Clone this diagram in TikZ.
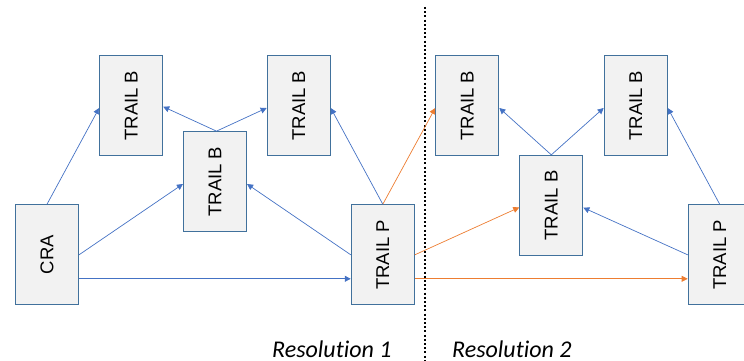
\documentclass[tikz,border=0pt]{standalone}
\usepackage{fontspec}
\setmainfont{Liberation Sans}
\newfontfamily\labfont[Ligatures={NoCommon,NoContextual}]{Carlito}
\usetikzlibrary{arrows.meta}
\definecolor{boxfill}{HTML}{F2F2F2}
\definecolor{boxline}{HTML}{41719C}
\definecolor{linkblue}{HTML}{4472C4}
\definecolor{linkorange}{HTML}{ED7D31}
\begin{document}
\begin{tikzpicture}[x=1pt,y=-1pt,
  blk/.style={draw=boxline,fill=boxfill,line width=1.1pt,minimum width=63pt,minimum height=100pt,inner sep=0pt,font=\fontsize{18.5}{20}\selectfont},
  bl/.style={draw=linkblue,line width=0.7pt,-{Triangle[width=6pt,length=6pt]}},
  og/.style={draw=linkorange,line width=0.7pt,-{Triangle[width=6pt,length=6pt]}},
  res/.style={font=\labfont\itshape\fontsize{24}{26}\selectfont,anchor=base west,inner sep=0pt}]
\useasboundingbox (0,0) rectangle (744,361);
\begin{scope}
\clip (0,0) rectangle (744,361);
\node[blk] (cra) at (47,254.8) {\rotatebox{90}{CRA}};
\node[blk] (b1) at (131.2,105.7) {\rotatebox{90}{TRAIL B}};
\node[blk] (bm) at (215,181.7) {\rotatebox{90}{TRAIL B}};
\node[blk] (b2) at (298.7,105.7) {\rotatebox{90}{TRAIL B}};
\node[blk] (p1) at (382.8,254.8) {\rotatebox{90}{TRAIL P}};
\node[blk] (b3) at (467.3,105.7) {\rotatebox{90}{TRAIL B}};
\node[blk] (bm2) at (551.3,205.4) {\rotatebox{90}{TRAIL B}};
\node[blk] (b4) at (635.7,105.7) {\rotatebox{90}{TRAIL B}};
\node[blk] (p2) at (719.7,254.8) {\rotatebox{90}{TRAIL P}};
\end{scope}
\coordinate (dtop) at (425.3,7);
\coordinate (dbot) at (425.3,361);
\draw[black,line width=2pt,dash pattern=on 2pt off 2.2pt] (dtop) -- (dbot);
% blue connectors, resolution 1
\draw[bl] (cra.north) -- ([yshift=-2.3pt]b1.west);
\draw[bl] (cra.east) -- ([yshift=-2.3pt]bm.west);
\draw[bl] ([yshift=-24pt]cra.east) -- ([yshift=-24pt]p1.west);
\draw[bl] ([xshift=1.5pt]bm.north) -- ([yshift=-1pt]b1.east);
\draw[bl] ([xshift=1.5pt]bm.north) -- ([yshift=-2.3pt]b2.west);
\draw[bl] (p1.north) -- ([yshift=-2.3pt]b2.east);
\draw[bl] (p1.west) -- ([yshift=-2.3pt]bm.east);
% orange connectors
\draw[og] (p1.north) -- ([yshift=-2.3pt]b3.west);
\draw[og] (p1.east) -- ([yshift=-2pt]bm2.west);
\draw[og] ([yshift=-24pt]p1.east) -- ([yshift=-24pt]p2.west);
% blue connectors, resolution 2
\draw[bl] (bm2.north) -- ([yshift=-2.3pt]b3.east);
\draw[bl] (bm2.north) -- ([yshift=-2.3pt]b4.west);
\draw[bl] (p2.north) -- ([yshift=-2.3pt]b4.east);
\draw[bl] (p2.west) -- ([yshift=-2.3pt]bm2.east);
\node[res] (r1) at (272,357.5) {Resolution 1};
\node[res] (r2) at (452,357.5) {Resolution 2};
\end{tikzpicture}
\end{document}
